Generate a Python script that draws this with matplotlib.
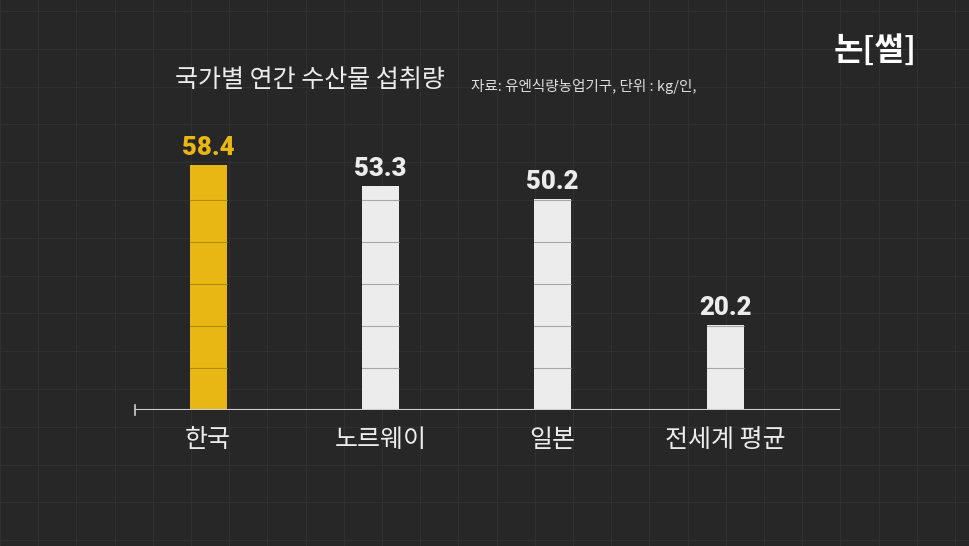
import matplotlib.pyplot as plt
from matplotlib.lines import Line2D

plt.rcParams['font.family'] = ['Noto Sans CJK KR', 'DejaVu Sans']

countries = ['한국', '노르웨이', '일본', '전세계 평균']
values = [58.4, 53.3, 50.2, 20.2]
value_labels = ['58.4', '53.3', '50.2', '20.2']
title = '국가별 연간 수산물 섭취량'
source = '자료: 유엔식량농업기구, 단위 : kg/인,'

bg = '#262726'
yellow = '#e8b714'
white = '#ececec'
colors = [yellow, white, white, white]
label_colors = [yellow, white, white, white]

fig = plt.figure(figsize=(9.7, 5.46), dpi=100, facecolor=bg)

# faint background grid over the whole picture
for i in range(0, 27):
    x = i * 38.2 / 970
    fig.add_artist(Line2D([x, x], [0, 1], color='#2f302f', lw=0.8, zorder=0))
for i in range(0, 16):
    y = 1 - (11 + i * 37.8) / 546
    fig.add_artist(Line2D([0, 1], [y, y], color='#2f302f', lw=0.8, zorder=0))

ax = fig.add_axes([135 / 970, 1 - 410 / 546, 705 / 970, 290 / 546])
ax.set_facecolor('none')
ax.set_xlim(-0.424, 3.667)
ax.set_ylim(0, 290 / 4.195)

xs = range(len(values))
ax.bar(xs, values, width=0.215, color=colors, zorder=2)

# thin lines across the bars every 10 units
for x, v, c in zip(xs, values, colors):
    for level in range(10, int(v) + 1, 10):
        ax.plot([x - 0.1075, x + 0.1075], [level, level], color='#8a8a8a' if c == white else '#9a7a10',
                lw=0.8, alpha=0.7, zorder=3)

for x, v, t, c in zip(xs, values, value_labels, label_colors):
    ax.text(x, v + 1.3, t, ha='center', va='bottom', fontsize=18.5, fontweight='black',
            color=c, family=['Roboto', 'DejaVu Sans'])

# baseline with a small tick at its left end
ax.axhline(0, color='#cfcfcf', lw=1.5, zorder=4)
ax.plot([-0.424, -0.424], [-1.2, 1.2], color='#cfcfcf', lw=1.2, clip_on=False)

for s in ax.spines.values():
    s.set_visible(False)
ax.set_yticks([])
ax.set_xticks(list(xs))
ax.set_xticklabels(countries, fontsize=18, color=white)
ax.tick_params(axis='x', length=0, pad=12)

fig.text(175 / 970, 1 - 80 / 546, title, fontsize=18, color=white, va='center', ha='left')
fig.text(471 / 970, 1 - 86 / 546, source, fontsize=10.5, color='#dddddd', va='center', ha='left')
fig.text(917 / 970, 1 - 51 / 546, '논[썰]', fontsize=23, fontweight='bold', color='white',
         va='center', ha='right')

fig.savefig('out.png', facecolor=bg)
